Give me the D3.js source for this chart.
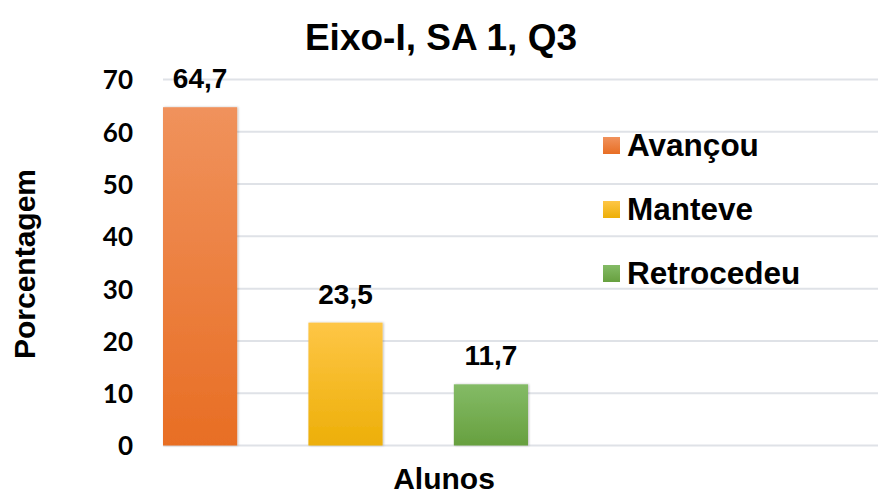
<!DOCTYPE html>
<html>
<head>
<meta charset="utf-8">
<script src="https://cdn.jsdelivr.net/npm/d3@7/dist/d3.min.js"></script>
<style>
  body { margin: 0; background: #fff; }
  svg { display: block; }
</style>
</head>
<body>
<div id="chart"></div>
<script>
// chart data
var series = ["Avançou", "Manteve", "Retrocedeu"];
var values = [64.7, 23.5, 11.7];
var yTicks = [0, 10, 20, 30, 40, 50, 60, 70];
var category = "Alunos";

// gradient stops per series (top, bottom)
var colors = [
  ["#f0925c", "#e86e24"],
  ["#fec646", "#edaf08"],
  ["#84bb66", "#67a03f"]
];

var W = 878, H = 490;
var plotLeft = 163, plotRight = 878, plotTop = 79.5, plotBottom = 445.5;

var svg = d3.select("#chart").append("svg")
    .attr("width", W)
    .attr("height", H);

var defs = svg.append("defs");
series.forEach(function(s, i) {
  var g = defs.append("linearGradient")
      .attr("id", "grad" + i)
      .attr("x1", 0).attr("y1", 0).attr("x2", 0).attr("y2", 1);
  g.append("stop").attr("offset", "0%").attr("stop-color", colors[i][0]);
  g.append("stop").attr("offset", "100%").attr("stop-color", colors[i][1]);
});
var f = defs.append("filter").attr("id", "shadow")
    .attr("x", "-10%").attr("y", "-10%").attr("width", "130%").attr("height", "120%");
f.append("feDropShadow").attr("dx", 1).attr("dy", 0).attr("stdDeviation", 1.2)
    .attr("flood-color", "#000").attr("flood-opacity", 0.25);

// scales
var y = d3.scaleLinear().domain([0, 70]).range([plotBottom, plotTop]);
var x = d3.scaleBand().domain(series).range([plotLeft, 528])
    .paddingInner(0.49).paddingOuter(0);

// gridlines
svg.append("g").selectAll("line")
    .data(yTicks)
    .enter().append("line")
    .attr("x1", plotLeft).attr("x2", plotRight)
    .attr("y1", function(d) { return y(d); })
    .attr("y2", function(d) { return y(d); })
    .attr("stroke", "#dfe2e7")
    .attr("stroke-width", 2);

// y axis tick labels
var yAxis = svg.append("g")
    .attr("transform", "translate(133,0)")
    .call(d3.axisLeft(y).tickValues(yTicks).tickSize(0).tickPadding(0));
yAxis.select(".domain").remove();
yAxis.selectAll("text")
    .attr("dy", "0.36em")
    .style("font-family", "Lato, 'Open Sans', sans-serif")
    .style("font-weight", "bold")
    .style("font-size", "26px")
    .attr("fill", "#000");

// bars
svg.append("g").selectAll("rect")
    .data(values)
    .enter().append("rect")
    .attr("x", function(d, i) { return x(series[i]); })
    .attr("y", function(d) { return y(d); })
    .attr("width", x.bandwidth())
    .attr("height", function(d) { return y(0) - y(d); })
    .attr("fill", function(d, i) { return "url(#grad" + i + ")"; })
    .attr("filter", "url(#shadow)");

// value labels
svg.append("g").selectAll("text")
    .data(values)
    .enter().append("text")
    .attr("x", function(d, i) { return x(series[i]) + x.bandwidth() / 2; })
    .attr("y", function(d) { return y(d) - 19; })
    .attr("text-anchor", "middle")
    .style("font-family", "'Liberation Sans', Arial, sans-serif")
    .style("font-weight", "bold")
    .style("font-size", "28px")
    .text(function(d) { return String(d).replace(".", ","); });

// title
svg.append("text")
    .attr("x", 441)
    .attr("y", 50)
    .attr("text-anchor", "middle")
    .style("font-family", "'Liberation Sans', Arial, sans-serif")
    .style("font-weight", "bold")
    .style("font-size", "37px")
    .text("Eixo-I, SA 1, Q3");

// axis titles
svg.append("text")
    .attr("transform", "translate(35,264) rotate(-90)")
    .attr("text-anchor", "middle")
    .style("font-family", "'Liberation Sans', Arial, sans-serif")
    .style("font-weight", "bold")
    .style("font-size", "30px")
    .text("Porcentagem");

svg.append("text")
    .attr("x", 444)
    .attr("y", 489)
    .attr("text-anchor", "middle")
    .style("font-family", "'Liberation Sans', Arial, sans-serif")
    .style("font-weight", "bold")
    .style("font-size", "30px")
    .text(category);

// legend
var legend = svg.append("g").selectAll("g")
    .data(series)
    .enter().append("g")
    .attr("transform", function(d, i) { return "translate(603," + (137 + i * 64) + ")"; });

legend.append("rect")
    .attr("width", 17).attr("height", 17)
    .attr("fill", function(d, i) { return "url(#grad" + i + ")"; });

legend.append("text")
    .attr("x", 24)
    .attr("y", 18.5)
    .style("font-family", "'Liberation Sans', Arial, sans-serif")
    .style("font-weight", "bold")
    .style("font-size", "31.5px")
    .text(function(d) { return d; });
</script>
</body>
</html>
